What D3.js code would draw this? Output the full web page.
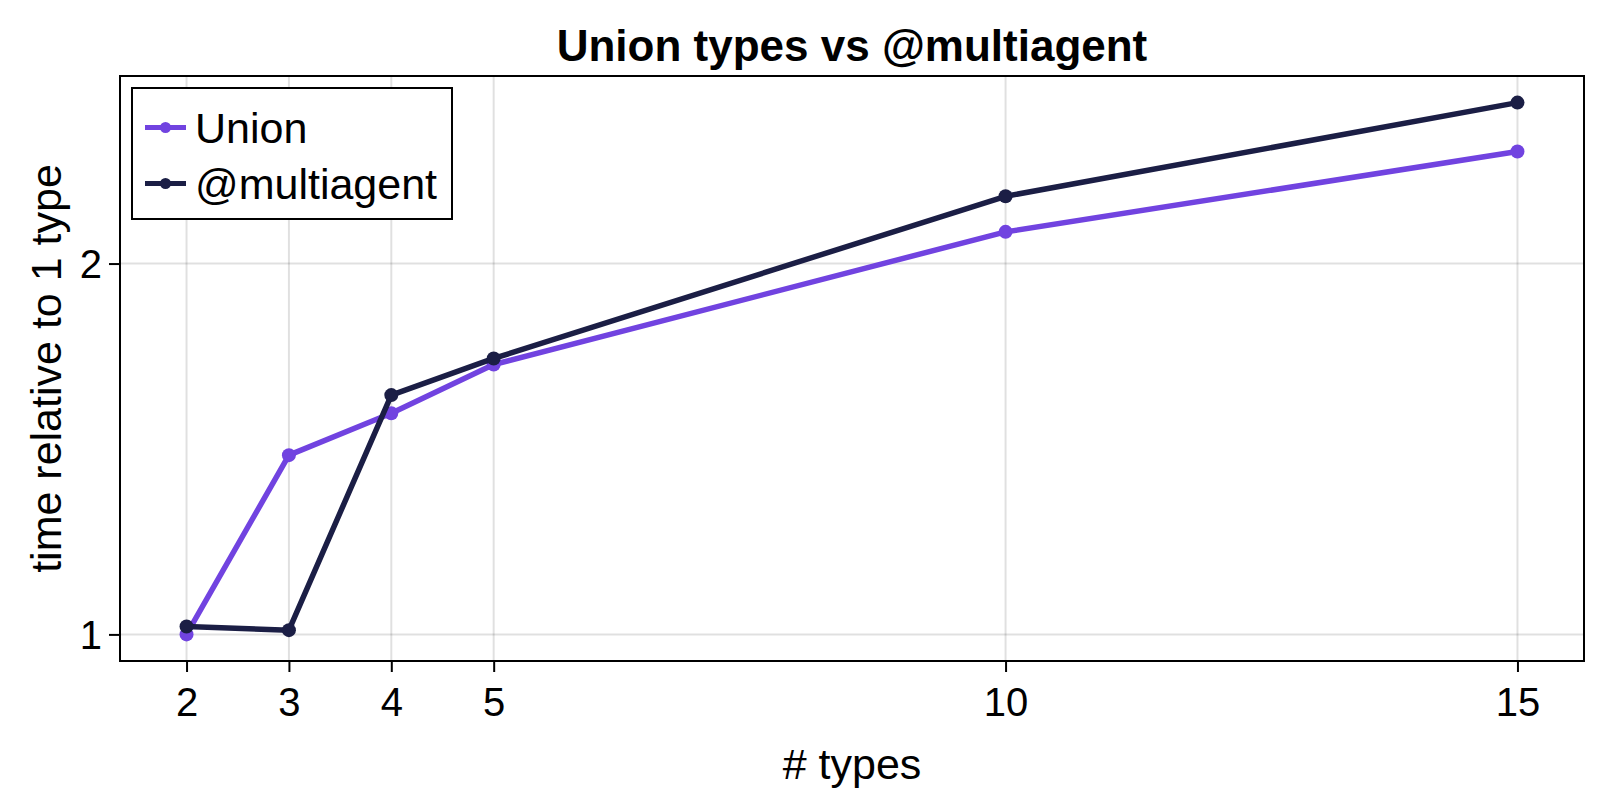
<!DOCTYPE html>
<html>
<head>
<meta charset="utf-8">
<script src="https://cdn.jsdelivr.net/npm/d3@7"></script>
<style>
  body { margin: 0; background: white; }
  text { font-family: "Liberation Sans", Arial, sans-serif; }
</style>
</head>
<body>
<div id="viz-container"></div>
<script>
// data
const nTypes = [2, 3, 4, 5, 10, 15];
const unionTimes = [1.0, 1.398, 1.512, 1.656, 2.122, 2.466];
const multiagentTimes = [1.015, 1.008, 1.564, 1.675, 2.268, 2.702];
const seriesNames = ["Union", "@multiagent"];
const seriesColors = ["#7143e0", "#1b1e45"];
const xTicks = [2, 3, 4, 5, 10, 15];
const yTicks = [1, 2];

const W = 1600, H = 800;
const plotLeft = 120, plotRight = 1584, plotTop = 76, plotBottom = 661;

let viz = d3.select("#viz-container")
  .append("svg")
    .attr("width", W)
    .attr("height", H)
    .style("background-color", "white");

// makie style 5% padding
let xScale = d3.scaleLinear().domain([1.35, 15.65]).range([plotLeft, plotRight]);
let allY = unionTimes.concat(multiagentTimes);
let lmin = Math.log2(d3.min(allY)), lmax = Math.log2(d3.max(allY));
let pad = (lmax - lmin) * 0.05;
let yScale = d3.scaleLog().base(2)
  .domain([Math.pow(2, lmin - pad), Math.pow(2, lmax + pad)])
  .range([plotBottom, plotTop]);

// grid
viz.append("g").selectAll("line").data(xTicks).enter().append("line")
  .attr("x1", d => xScale(d)).attr("x2", d => xScale(d))
  .attr("y1", plotTop).attr("y2", plotBottom)
  .attr("stroke", "rgba(0,0,0,0.12)").attr("stroke-width", 2);
viz.append("g").selectAll("line").data(yTicks).enter().append("line")
  .attr("x1", plotLeft).attr("x2", plotRight)
  .attr("y1", d => yScale(d)).attr("y2", d => yScale(d))
  .attr("stroke", "rgba(0,0,0,0.12)").attr("stroke-width", 2);

// axes
let xAxis = d3.axisBottom(xScale).tickValues(xTicks).tickSize(11).tickPadding(16).tickFormat(d3.format("d"));
let gx = viz.append("g").attr("transform", "translate(0," + plotBottom + ")").call(xAxis);
let yAxis = d3.axisLeft(yScale).tickValues(yTicks).tickSize(11).tickPadding(7).tickFormat(d3.format("d"));
let gy = viz.append("g").attr("transform", "translate(" + plotLeft + ",0)").call(yAxis);
[gx, gy].forEach(g => {
  g.select(".domain").remove();
  g.selectAll(".tick line").attr("stroke", "black").attr("stroke-width", 2);
  g.selectAll(".tick text").attr("font-size", 40).attr("fill", "black")
    .style("font-family", "'Liberation Sans', Arial, sans-serif");
});
gy.selectAll(".tick text").attr("dy", "0.36em");

// frame
viz.append("rect")
  .attr("x", plotLeft).attr("y", plotTop)
  .attr("width", plotRight - plotLeft).attr("height", plotBottom - plotTop)
  .attr("fill", "none").attr("stroke", "black").attr("stroke-width", 2);

// lines
let series = [unionTimes, multiagentTimes];
let line = d3.line().x((d, i) => xScale(nTypes[i])).y(d => yScale(d));
series.forEach((vals, k) => {
  viz.append("path").datum(vals)
    .attr("d", line)
    .attr("fill", "none")
    .attr("stroke", seriesColors[k])
    .attr("stroke-width", 5.5)
    .attr("stroke-linejoin", "round");
  viz.append("g").selectAll("circle").data(vals).enter().append("circle")
    .attr("cx", (d, i) => xScale(nTypes[i]))
    .attr("cy", d => yScale(d))
    .attr("r", 7)
    .attr("fill", seriesColors[k]);
});

// title & labels
viz.append("text").text("Union types vs @multiagent")
  .attr("x", (plotLeft + plotRight) / 2).attr("y", 61)
  .attr("text-anchor", "middle").attr("font-size", 44).attr("font-weight", "bold");
viz.append("text").text("# types")
  .attr("x", (plotLeft + plotRight) / 2).attr("y", 779)
  .attr("text-anchor", "middle").attr("font-size", 43);
viz.append("text").text("time relative to 1 type")
  .attr("transform", "translate(61," + (plotTop + plotBottom) / 2 + ") rotate(-90)")
  .attr("text-anchor", "middle").attr("font-size", 43);

// legend
let leg = viz.append("g").attr("transform", "translate(132,88)");
leg.append("rect").attr("width", 320).attr("height", 131)
  .attr("fill", "white").attr("stroke", "black").attr("stroke-width", 2);
seriesNames.forEach((name, k) => {
  let cy = 39.5 + k * 56;
  leg.append("line").attr("x1", 13).attr("x2", 54).attr("y1", cy).attr("y2", cy)
    .attr("stroke", seriesColors[k]).attr("stroke-width", 5);
  leg.append("circle").attr("cx", 33.5).attr("cy", cy).attr("r", 5.5)
    .attr("fill", seriesColors[k]);
  leg.append("text").text(name).attr("x", 63).attr("y", cy)
    .attr("dy", "0.36em").attr("font-size", 43);
});
</script>
</body>
</html>
